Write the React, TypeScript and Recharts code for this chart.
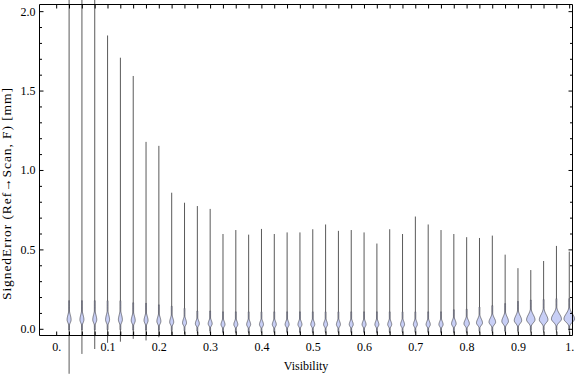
import React from 'react';
import { ComposedChart, Bar, XAxis, YAxis, ReferenceLine } from 'recharts';

// Bin centres (visibility) and the error distribution in each bin
const visibility = [
  0.025, 0.05, 0.075, 0.1, 0.125, 0.15, 0.175, 0.2, 0.225, 0.25,
  0.275, 0.3, 0.325, 0.35, 0.375, 0.4, 0.425, 0.45, 0.475, 0.5,
  0.525, 0.55, 0.575, 0.6, 0.625, 0.65, 0.675, 0.7, 0.725, 0.75,
  0.775, 0.8, 0.825, 0.85, 0.875, 0.9, 0.925, 0.95, 0.975, 1.0,
];
const maxError = [
  2.08, 2.08, 2.08, 1.85, 1.71, 1.595, 1.18, 1.155, 0.86, 0.797,
  0.776, 0.758, 0.6, 0.625, 0.596, 0.632, 0.6, 0.61, 0.61, 0.63,
  0.66, 0.62, 0.625, 0.61, 0.54, 0.63, 0.6, 0.71, 0.66, 0.625,
  0.6, 0.58, 0.575, 0.59, 0.47, 0.385, 0.373, 0.43, 0.525, 0.489,
];
const minError = [
  -0.28, -0.155, -0.124, -0.085, -0.078, -0.06, -0.07, -0.05, -0.035, -0.03,
  -0.025, -0.025, -0.025, -0.025, -0.025, -0.025, -0.025, -0.025, -0.025, -0.025,
  -0.025, -0.025, -0.025, -0.025, -0.025, -0.025, -0.025, -0.025, -0.025, -0.025,
  -0.025, -0.025, -0.025, -0.025, -0.02, -0.02, -0.02, -0.02, -0.02, -0.02,
];
const modeError = [
  0.06, 0.06, 0.06, 0.06, 0.06, 0.055, 0.055, 0.05, 0.045, 0.04,
  0.035, 0.035, 0.03, 0.03, 0.03, 0.03, 0.03, 0.03, 0.03, 0.03,
  0.03, 0.03, 0.03, 0.03, 0.03, 0.03, 0.03, 0.03, 0.03, 0.03,
  0.035, 0.035, 0.04, 0.045, 0.05, 0.055, 0.06, 0.06, 0.065, 0.065,
];
const density = [
  1.0, 1.0, 1.0, 1.0, 1.0, 1.0, 1.0, 1.0, 1.0, 1.0,
  1.0, 1.0, 1.0, 1.0, 1.0, 1.0, 1.0, 1.0, 1.0, 1.0,
  1.0, 1.0, 1.0, 1.0, 1.0, 1.0, 1.0, 1.0, 1.05, 1.05,
  1.15, 1.35, 1.5, 1.65, 1.65, 1.85, 2.1, 2.15, 2.5, 2.65,
];
const spreadUp = [
  0.03, 0.03, 0.03, 0.03, 0.03, 0.028, 0.027, 0.026, 0.025, 0.023,
  0.02, 0.02, 0.02, 0.02, 0.02, 0.02, 0.02, 0.02, 0.02, 0.02,
  0.02, 0.02, 0.02, 0.02, 0.02, 0.02, 0.02, 0.02, 0.02, 0.02,
  0.022, 0.023, 0.025, 0.026, 0.028, 0.03, 0.031, 0.032, 0.032, 0.032,
];
const spreadDown = [
  0.018, 0.018, 0.018, 0.018, 0.018, 0.017, 0.017, 0.016, 0.015, 0.014,
  0.013, 0.013, 0.013, 0.013, 0.013, 0.013, 0.013, 0.013, 0.013, 0.013,
  0.013, 0.013, 0.013, 0.013, 0.013, 0.013, 0.013, 0.013, 0.013, 0.013,
  0.014, 0.014, 0.015, 0.016, 0.017, 0.018, 0.019, 0.019, 0.02, 0.02,
];

const xTicks = [0, ...visibility];
const yTicks = [
  0, 0.1, 0.2, 0.3, 0.4, 0.5, 0.6, 0.7, 0.8, 0.9, 1.0,
  1.1, 1.2, 1.3, 1.4, 1.5, 1.6, 1.7, 1.8, 1.9, 2.0,
];
const xLabeled = [0, 0.1, 0.2, 0.3, 0.4, 0.5, 0.6, 0.7, 0.8, 0.9, 1.0];
const yLabeled = [0, 0.5, 1.0, 1.5, 2.0];

const X_DOMAIN: [number, number] = [-0.0335, 1.0055];
const Y_DOMAIN: [number, number] = [-0.039, 2.045];

const FONT = '"Liberation Serif", "Times New Roman", serif';

const data = visibility.map((v, i) => ({
  v,
  // clamp so the axis keeps its range; the shape draws the full extent
  range: [Math.max(minError[i], Y_DOMAIN[0]), Math.min(maxError[i], Y_DOMAIN[1])],
  lo: minError[i],
  hi: maxError[i],
  mode: modeError[i],
  dens: density[i],
  up: spreadUp[i],
  down: spreadDown[i],
}));

const near = (a: number, list: number[]) => list.some((b) => Math.abs(a - b) < 1e-6);

const Violin = (props: any) => {
  const { x, y, width, height, payload } = props;
  const [r0, r1] = payload.range;
  const k = height / (r1 - r0);
  const cx = x + width / 2;
  const toY = (val: number) => y + (r1 - val) * k;

  const pts: [number, number][] = [];
  const start = Math.min(payload.hi, payload.mode + 4 * payload.up);
  const end = Math.max(payload.lo, payload.mode - 3.5 * payload.down);
  const steps = 40;
  for (let s = 0; s <= steps; s++) {
    const val = start - ((start - end) * s) / steps;
    const sd = val > payload.mode ? payload.up : payload.down;
    const hw = payload.dens * 2 * Math.exp(-0.5 * ((val - payload.mode) / sd) ** 2);
    pts.push([Math.max(hw, 0.4), toY(val)]);
  }
  const right = pts.map(([w, py]) => `${(cx + w).toFixed(2)},${py.toFixed(2)}`);
  const left = pts.slice().reverse().map(([w, py]) => `${(cx - w).toFixed(2)},${py.toFixed(2)}`);

  return (
    <g>
      <line x1={cx} x2={cx} y1={toY(payload.hi)} y2={toY(payload.lo)} stroke="#5a5a5a" strokeWidth={1} />
      <path d={`M${right.join(' L')} L${left.join(' L')} Z`} fill="#c8cff6" stroke="#4d4d55" strokeWidth={0.7} />
    </g>
  );
};

// reference lines drawn only as short inward ticks at both ends (frame ticks)
const lineEnds = (p: any) => {
  const x1 = Number(p.x1 ?? p.points?.[0]?.x);
  const y1 = Number(p.y1 ?? p.points?.[0]?.y);
  const x2 = Number(p.x2 ?? p.points?.[1]?.x);
  const y2 = Number(p.y2 ?? p.points?.[1]?.y);
  return { x1, y1, x2, y2 };
};

const XTickMarks = (p: any) => {
  const { x1, y1, y2 } = lineEnds(p);
  const top = Math.min(y1, y2);
  const bottom = Math.max(y1, y2);
  return <path d={`M${x1},${top} V${top + 4} M${x1},${bottom} V${bottom - 4}`} stroke="#000" strokeWidth={1} fill="none" />;
};

const YTickMarks = (len: number) => (p: any) => {
  const { x1, y1, x2 } = lineEnds(p);
  const l = Math.min(x1, x2);
  const r = Math.max(x1, x2);
  return <path d={`M${l},${y1} H${l + len} M${r},${y1} H${r - len}`} stroke="#000" strokeWidth={1} fill="none" />;
};

const BottomLabel = ({ x, y, payload }: any) =>
  near(payload.value, xLabeled) ? (
    <text x={x} y={Number(y) + 15} textAnchor="middle" fontFamily={FONT} fontSize={12} fill="#000">
      {payload.value === 0 ? '0.' : payload.value === 1 ? '1.' : payload.value.toFixed(1)}
    </text>
  ) : (
    <g />
  );

const LeftLabel = ({ x, y, payload }: any) =>
  near(payload.value, yLabeled) ? (
    <text x={Number(x) - 4} y={Number(y) + 4} textAnchor="end" fontFamily={FONT} fontSize={12} fill="#000">
      {payload.value.toFixed(1)}
    </text>
  ) : (
    <g />
  );

const XLabel = ({ viewBox }: any) => (
  <text x={viewBox.x + viewBox.width / 2} y={viewBox.y + 34} textAnchor="middle" fontFamily={FONT} fontSize={12} fill="#000">
    Visibility
  </text>
);

const YLabel = ({ viewBox }: any) => {
  const lx = viewBox.x + 10.5;
  const ly = viewBox.y + viewBox.height / 2 + 24;
  return (
    <text
      x={lx}
      y={ly}
      transform={`rotate(-90 ${lx} ${ly})`}
      textAnchor="middle"
      textLength={212}
      lengthAdjust="spacing"
      fontFamily={FONT}
      fontSize={13.5}
      fill="#000"
    >
      SignedError (Ref→Scan, F) [mm]
    </text>
  );
};

const majorY = YTickMarks(4);
const minorY = YTickMarks(2.5);

export default function App() {
  document.body.style.margin = '0';
  return (
    <div style={{ width: 576, height: 375, background: '#fff' }}>
      <ComposedChart width={576} height={375} data={data} margin={{ top: 4.5, right: 3.5, bottom: 0, left: 0 }}>
        <XAxis
          dataKey="v"
          type="number"
          domain={X_DOMAIN}
          ticks={xTicks}
          height={39.5}
          tickSize={0}
          tickMargin={0}
          tickLine={false}
          axisLine={false}
          tick={<BottomLabel />}
          interval={0}
          label={<XLabel />}
        />
        <YAxis
          type="number"
          domain={Y_DOMAIN}
          ticks={yTicks}
          width={39.5}
          tickSize={0}
          tickMargin={0}
          tickLine={false}
          axisLine={false}
          tick={<LeftLabel />}
          interval={0}
          label={<YLabel />}
        />
        {xTicks.map((t) => (
          <ReferenceLine key={`xt-${t}`} x={t} shape={XTickMarks} ifOverflow="visible" />
        ))}
        {yTicks.map((t) => (
          <ReferenceLine key={`yt-${t}`} y={t} shape={near(t, yLabeled) ? majorY : minorY} ifOverflow="visible" />
        ))}
        <ReferenceLine x={X_DOMAIN[0]} stroke="#000" strokeWidth={1} ifOverflow="visible" />
        <ReferenceLine x={X_DOMAIN[1]} stroke="#000" strokeWidth={1} ifOverflow="visible" />
        <ReferenceLine y={Y_DOMAIN[0]} stroke="#000" strokeWidth={1} ifOverflow="visible" />
        <ReferenceLine y={Y_DOMAIN[1]} stroke="#000" strokeWidth={1} ifOverflow="visible" />
        <Bar dataKey="range" barSize={10} shape={<Violin />} isAnimationActive={false} />
      </ComposedChart>
    </div>
  );
}
